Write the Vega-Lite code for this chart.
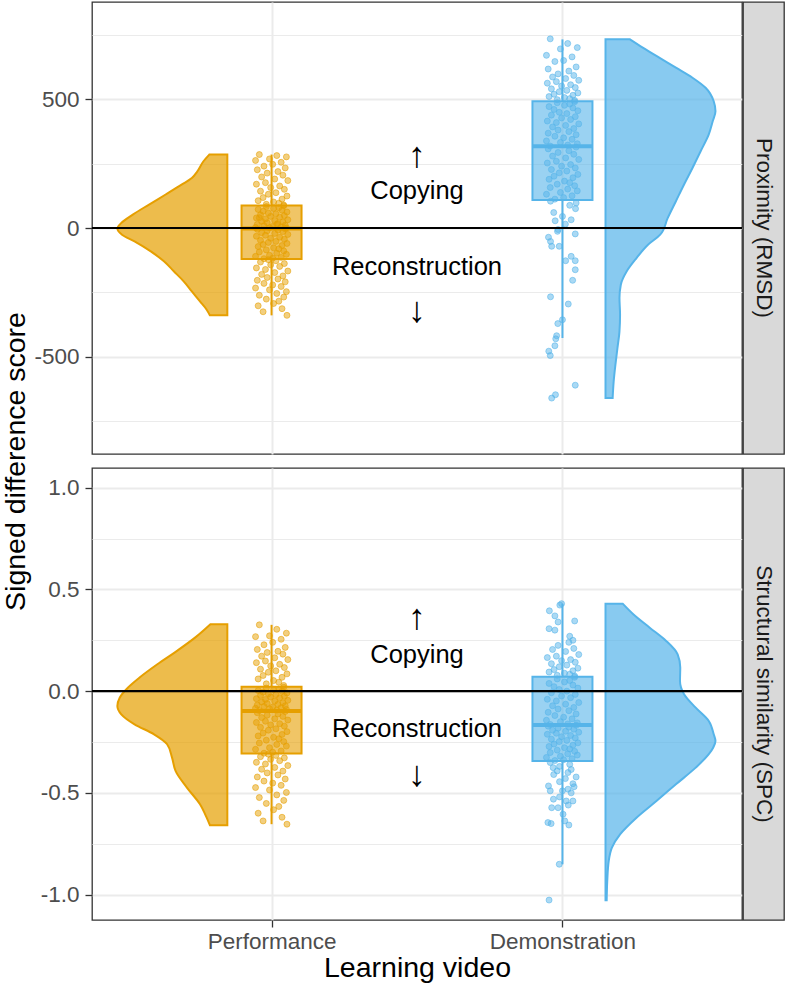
{
"$schema": "https://vega.github.io/schema/vega-lite/v6.json",
"padding": {"left": 0, "top": 1, "right": 2, "bottom": 2},
"background": "white",
"bounds": "flush",
"columns": 2,
"spacing": {"row": 14, "column": 1},
"config": {
  "font": "Liberation Sans",
  "view": {"stroke": "#333333", "strokeWidth": 1.3},
  "axis": {"domain": false, "gridColor": "#EBEBEB", "tickColor": "#333333", "tickWidth": 1.3, "tickSize": 7, "labelFontSize": 22.5, "labelColor": "#4D4D4D", "labelFont": "Liberation Sans", "titleFont": "Liberation Sans", "titleFontSize": 28.5, "titleFontWeight": "normal", "titleColor": "#000000"},
  "text": {"font": "Liberation Sans"}
},
"datasets": {
  "vioTopP": [{"v":285,"xo":0.786},{"v":259,"xo":0.766},{"v":220,"xo":0.745},{"v":194,"xo":0.726},{"v":169,"xo":0.692},{"v":130,"xo":0.636},{"v":91,"xo":0.579},{"v":52,"xo":0.523},{"v":19,"xo":0.483},{"v":-2,"xo":0.470},{"v":-26,"xo":0.486},{"v":-52,"xo":0.529},{"v":-91,"xo":0.585},{"v":-129,"xo":0.630},{"v":-168,"xo":0.664},{"v":-207,"xo":0.698},{"v":-246,"xo":0.726},{"v":-285,"xo":0.754},{"v":-317,"xo":0.777},{"v":-339,"xo":0.788}],
  "vioTopD": [{"v":732,"xo":2.232},{"v":699,"xo":2.2775},{"v":660,"xo":2.334},{"v":622,"xo":2.390},{"v":583,"xo":2.447},{"v":544,"xo":2.492},{"v":492,"xo":2.520},{"v":453,"xo":2.526},{"v":414,"xo":2.5165},{"v":363,"xo":2.503},{"v":298,"xo":2.475},{"v":233,"xo":2.447},{"v":169,"xo":2.418},{"v":104,"xo":2.390},{"v":39,"xo":2.362},{"v":-26,"xo":2.336},{"v":-65,"xo":2.294},{"v":-117,"xo":2.2545},{"v":-168,"xo":2.221},{"v":-220,"xo":2.2006},{"v":-272,"xo":2.196},{"v":-336,"xo":2.198},{"v":-401,"xo":2.196},{"v":-466,"xo":2.189},{"v":-531,"xo":2.182},{"v":-596,"xo":2.176},{"v":-660,"xo":2.1725}],
  "vioBotP": [{"v":0.329,"xo":0.790},{"v":0.263,"xo":0.737},{"v":0.198,"xo":0.675},{"v":0.132,"xo":0.6075},{"v":0.066,"xo":0.5455},{"v":0.017,"xo":0.506},{"v":-0.032,"xo":0.478},{"v":-0.073,"xo":0.470},{"v":-0.114,"xo":0.4835},{"v":-0.163,"xo":0.529},{"v":-0.212,"xo":0.596},{"v":-0.261,"xo":0.641},{"v":-0.327,"xo":0.658},{"v":-0.392,"xo":0.670},{"v":-0.474,"xo":0.709},{"v":-0.556,"xo":0.754},{"v":-0.622,"xo":0.777},{"v":-0.659,"xo":0.788}],
  "vioBotD": [{"v":0.430,"xo":2.207},{"v":0.378,"xo":2.2435},{"v":0.312,"xo":2.300},{"v":0.247,"xo":2.3565},{"v":0.181,"xo":2.396},{"v":0.116,"xo":2.405},{"v":0.050,"xo":2.404},{"v":-0.015,"xo":2.418},{"v":-0.081,"xo":2.458},{"v":-0.1465,"xo":2.503},{"v":-0.212,"xo":2.520},{"v":-0.245,"xo":2.526},{"v":-0.278,"xo":2.518},{"v":-0.310,"xo":2.503},{"v":-0.376,"xo":2.458},{"v":-0.458,"xo":2.390},{"v":-0.540,"xo":2.323},{"v":-0.622,"xo":2.2545},{"v":-0.704,"xo":2.198},{"v":-0.769,"xo":2.170},{"v":-0.835,"xo":2.159},{"v":-0.933,"xo":2.154},{"v":-1.028,"xo":2.152}],
  "boxTop": [{"g":"Performance","c":1,"lo":-339,"q1":-120,"med":-2,"q3":87,"hi":285},{"g":"Demonstration","c":2,"lo":-427,"q1":109,"med":317,"q3":492,"hi":732}],
  "boxBot": [{"g":"Performance","c":1,"lo":-0.654,"q1":-0.307,"med":-0.097,"q3":0.022,"hi":0.326},{"g":"Demonstration","c":2,"lo":-0.851,"q1":-0.343,"med":-0.166,"q3":0.071,"hi":0.43}],
  "wordsTop": [{"t":"Copying","v":143},{"t":"Reconstruction","v":-152}],
  "arrowsTop": [{"t":"↑","v":278},{"t":"↓","v":-324}],
  "wordsBot": [{"t":"Copying","v":0.178},{"t":"Reconstruction","v":-0.186}],
  "arrowsBot": [{"t":"↑","v":0.36},{"t":"↓","v":-0.413}],
  "ptsTopP": [{"x":0.958,"v":285},{"x":1.018,"v":281},{"x":1.051,"v":276},{"x":0.993,"v":268},{"x":0.945,"v":262},{"x":1.033,"v":255},{"x":1.004,"v":247},{"x":0.974,"v":240},{"x":1.047,"v":233},{"x":0.951,"v":226},{"x":1.022,"v":219},{"x":0.985,"v":213},{"x":1.039,"v":205},{"x":0.966,"v":198},{"x":1.011,"v":190},{"x":1.056,"v":184},{"x":0.979,"v":176},{"x":0.948,"v":170},{"x":1.028,"v":163},{"x":0.997,"v":157},{"x":1.044,"v":150},{"x":0.962,"v":143},{"x":1.015,"v":137},{"x":0.989,"v":131},{"x":1.053,"v":124},{"x":0.971,"v":118},{"x":1.036,"v":112},{"x":0.954,"v":106},{"x":1.007,"v":101},{"x":1.025,"v":96},{"x":0.982,"v":92},{"x":1.042,"v":89},
{"x":1.042,"v":86},{"x":0.982,"v":83},{"x":1.025,"v":79},{"x":1.007,"v":76},{"x":0.954,"v":72},{"x":1.036,"v":69},{"x":0.971,"v":65},{"x":1.053,"v":62},{"x":0.989,"v":58},{"x":1.015,"v":55},{"x":0.962,"v":51},{"x":1.044,"v":48},{"x":0.997,"v":45},{"x":1.028,"v":42},{"x":0.948,"v":39},{"x":0.979,"v":35},{"x":1.056,"v":32},{"x":1.011,"v":29},{"x":0.966,"v":26},{"x":1.039,"v":23},{"x":0.985,"v":20},{"x":1.022,"v":17},{"x":0.951,"v":14},{"x":1.047,"v":11},{"x":0.974,"v":9},{"x":1.004,"v":6},{"x":1.033,"v":4},{"x":0.945,"v":2},{"x":0.993,"v":1},{"x":1.051,"v":0},{"x":1.018,"v":15},{"x":0.958,"v":40},
{"x":1.047,"v":-3},{"x":0.951,"v":-5},{"x":1.022,"v":-8},{"x":0.985,"v":-11},{"x":1.039,"v":-14},{"x":0.966,"v":-18},{"x":1.011,"v":-21},{"x":1.056,"v":-25},{"x":0.979,"v":-28},{"x":0.948,"v":-32},{"x":1.028,"v":-36},{"x":0.997,"v":-40},{"x":1.044,"v":-44},{"x":0.962,"v":-48},{"x":1.015,"v":-52},{"x":0.989,"v":-56},{"x":1.053,"v":-60},{"x":0.971,"v":-64},{"x":1.036,"v":-68},{"x":0.954,"v":-72},{"x":1.007,"v":-77},{"x":1.025,"v":-81},{"x":0.982,"v":-85},{"x":1.042,"v":-89},{"x":0.958,"v":-93},{"x":1.018,"v":-98},{"x":1.051,"v":-102},{"x":0.993,"v":-106},{"x":0.945,"v":-110},{"x":1.033,"v":-114},{"x":1.004,"v":-117},{"x":0.974,"v":-119},
{"x":0.989,"v":-123},{"x":1.015,"v":-127},{"x":0.962,"v":-132},{"x":1.044,"v":-138},{"x":0.997,"v":-143},{"x":1.028,"v":-149},{"x":0.948,"v":-155},{"x":0.979,"v":-161},{"x":1.056,"v":-167},{"x":1.011,"v":-173},{"x":0.966,"v":-180},{"x":1.039,"v":-186},{"x":0.985,"v":-192},{"x":1.022,"v":-198},{"x":0.951,"v":-203},{"x":1.047,"v":-209},{"x":0.974,"v":-215},{"x":1.004,"v":-221},{"x":1.033,"v":-227},{"x":0.945,"v":-233},{"x":0.993,"v":-240},{"x":1.051,"v":-247},{"x":1.018,"v":-254},{"x":0.958,"v":-261},{"x":1.042,"v":-268},{"x":0.982,"v":-276},{"x":1.025,"v":-284},{"x":1.007,"v":-293},{"x":0.954,"v":-302},{"x":1.036,"v":-313},{"x":0.971,"v":-325},{"x":1.053,"v":-339}],
  "ptsTopD": [{"x":1.958,"v":734},{"x":2.018,"v":716},{"x":2.051,"v":700},{"x":1.993,"v":695},{"x":1.945,"v":670},{"x":2.033,"v":664},{"x":2.004,"v":650},{"x":1.974,"v":646},{"x":2.047,"v":625},{"x":1.951,"v":617},{"x":2.022,"v":609},{"x":1.985,"v":598},{"x":2.039,"v":592},{"x":1.966,"v":586},{"x":2.011,"v":580},{"x":2.056,"v":573},{"x":1.979,"v":568},{"x":1.948,"v":562},{"x":2.028,"v":556},{"x":1.997,"v":551},{"x":2.044,"v":545},{"x":1.962,"v":540},{"x":2.015,"v":534},{"x":1.989,"v":529},{"x":2.053,"v":524},{"x":1.971,"v":519},{"x":2.036,"v":515},{"x":1.954,"v":510},{"x":2.007,"v":506},{"x":2.025,"v":502},{"x":1.982,"v":498},{"x":2.042,"v":495},
{"x":2.042,"v":490},{"x":1.982,"v":486},{"x":2.025,"v":481},{"x":2.007,"v":476},{"x":1.954,"v":471},{"x":2.036,"v":466},{"x":1.971,"v":460},{"x":2.053,"v":455},{"x":1.989,"v":449},{"x":2.015,"v":444},{"x":1.962,"v":438},{"x":2.044,"v":432},{"x":1.997,"v":427},{"x":2.028,"v":421},{"x":1.948,"v":415},{"x":1.979,"v":409},{"x":2.056,"v":404},{"x":2.011,"v":398},{"x":1.966,"v":392},{"x":2.039,"v":386},{"x":1.985,"v":380},{"x":2.022,"v":374},{"x":1.951,"v":368},{"x":2.047,"v":362},{"x":1.974,"v":356},{"x":2.004,"v":350},{"x":2.033,"v":344},{"x":1.945,"v":338},{"x":1.993,"v":332},{"x":2.051,"v":327},{"x":2.018,"v":322},{"x":1.958,"v":318},
{"x":2.047,"v":314},{"x":1.951,"v":307},{"x":2.022,"v":300},{"x":1.985,"v":293},{"x":2.039,"v":286},{"x":1.966,"v":279},{"x":2.011,"v":272},{"x":2.056,"v":266},{"x":1.979,"v":259},{"x":1.948,"v":252},{"x":2.028,"v":246},{"x":1.997,"v":240},{"x":2.044,"v":233},{"x":1.962,"v":227},{"x":2.015,"v":221},{"x":1.989,"v":214},{"x":2.053,"v":208},{"x":1.971,"v":201},{"x":2.036,"v":195},{"x":1.954,"v":189},{"x":2.007,"v":182},{"x":2.025,"v":176},{"x":1.982,"v":170},{"x":2.042,"v":164},{"x":1.958,"v":157},{"x":2.018,"v":151},{"x":2.051,"v":144},{"x":1.993,"v":138},{"x":1.945,"v":131},{"x":2.033,"v":125},{"x":2.004,"v":118},{"x":1.974,"v":112},
{"x":1.959,"v":104},{"x":2.047,"v":97},{"x":2.025,"v":88},{"x":2.045,"v":75},{"x":1.97,"v":60},{"x":2.0,"v":45},{"x":2.03,"v":32},{"x":1.975,"v":28},{"x":2.01,"v":15},{"x":1.985,"v":-6},{"x":1.983,"v":-13},{"x":2.044,"v":-23},{"x":1.952,"v":-36},{"x":1.959,"v":-52},{"x":1.963,"v":-71},{"x":1.989,"v":-71},{"x":2.03,"v":-110},{"x":2.011,"v":-127},{"x":2.044,"v":-127},{"x":2.044,"v":-162},{"x":2.035,"v":-203},{"x":1.959,"v":-267},{"x":2.02,"v":-295},{"x":2.0,"v":-356},{"x":1.984,"v":-371},{"x":1.98,"v":-418},{"x":1.977,"v":-430},{"x":1.974,"v":-457},{"x":1.953,"v":-478},{"x":1.958,"v":-495},{"x":2.044,"v":-610},{"x":1.976,"v":-647},{"x":1.963,"v":-660}],
  "ptsBotP": [{"x":0.958,"v":0.326},{"x":1.018,"v":0.304},{"x":1.051,"v":0.285},{"x":0.993,"v":0.272},{"x":0.945,"v":0.268},{"x":1.033,"v":0.255},{"x":1.004,"v":0.24},{"x":0.974,"v":0.228},{"x":1.047,"v":0.215},{"x":0.951,"v":0.205},{"x":1.022,"v":0.196},{"x":0.985,"v":0.19},{"x":1.039,"v":0.182},{"x":0.966,"v":0.172},{"x":1.011,"v":0.164},{"x":1.056,"v":0.155},{"x":0.979,"v":0.148},{"x":0.948,"v":0.14},{"x":1.028,"v":0.132},{"x":0.997,"v":0.124},{"x":1.044,"v":0.116},{"x":0.962,"v":0.108},{"x":1.015,"v":0.1},{"x":0.989,"v":0.093},{"x":1.053,"v":0.085},{"x":0.971,"v":0.077},{"x":1.036,"v":0.068},{"x":0.954,"v":0.06},{"x":1.007,"v":0.052},{"x":1.025,"v":0.044},{"x":0.982,"v":0.036},{"x":1.042,"v":0.028},
{"x":1.042,"v":0.019},{"x":0.982,"v":0.015},{"x":1.025,"v":0.011},{"x":1.007,"v":0.007},{"x":0.954,"v":0.003},{"x":1.036,"v":-0.001},{"x":0.971,"v":-0.005},{"x":1.053,"v":-0.009},{"x":0.989,"v":-0.013},{"x":1.015,"v":-0.017},{"x":0.962,"v":-0.021},{"x":1.044,"v":-0.025},{"x":0.997,"v":-0.029},{"x":1.028,"v":-0.033},{"x":0.948,"v":-0.037},{"x":0.979,"v":-0.041},{"x":1.056,"v":-0.045},{"x":1.011,"v":-0.049},{"x":0.966,"v":-0.053},{"x":1.039,"v":-0.057},{"x":0.985,"v":-0.061},{"x":1.022,"v":-0.065},{"x":0.951,"v":-0.068},{"x":1.047,"v":-0.072},{"x":0.974,"v":-0.075},{"x":1.004,"v":-0.078},{"x":1.033,"v":-0.081},{"x":0.945,"v":-0.084},{"x":0.993,"v":-0.087},{"x":1.051,"v":-0.09},{"x":1.018,"v":-0.093},{"x":0.958,"v":-0.095},
{"x":1.047,"v":-0.1},{"x":0.951,"v":-0.106},{"x":1.022,"v":-0.112},{"x":0.985,"v":-0.118},{"x":1.039,"v":-0.124},{"x":0.966,"v":-0.13},{"x":1.011,"v":-0.136},{"x":1.056,"v":-0.142},{"x":0.979,"v":-0.148},{"x":0.948,"v":-0.154},{"x":1.028,"v":-0.16},{"x":0.997,"v":-0.166},{"x":1.044,"v":-0.172},{"x":0.962,"v":-0.178},{"x":1.015,"v":-0.185},{"x":0.989,"v":-0.192},{"x":1.053,"v":-0.199},{"x":0.971,"v":-0.206},{"x":1.036,"v":-0.213},{"x":0.954,"v":-0.22},{"x":1.007,"v":-0.227},{"x":1.025,"v":-0.234},{"x":0.982,"v":-0.241},{"x":1.042,"v":-0.248},{"x":0.958,"v":-0.255},{"x":1.018,"v":-0.262},{"x":1.051,"v":-0.27},{"x":0.993,"v":-0.278},{"x":0.945,"v":-0.286},{"x":1.033,"v":-0.294},{"x":1.004,"v":-0.3},{"x":0.974,"v":-0.305},
{"x":0.989,"v":-0.31},{"x":1.015,"v":-0.316},{"x":0.962,"v":-0.322},{"x":1.044,"v":-0.328},{"x":0.997,"v":-0.335},{"x":1.028,"v":-0.342},{"x":0.948,"v":-0.35},{"x":0.979,"v":-0.358},{"x":1.056,"v":-0.366},{"x":1.011,"v":-0.375},{"x":0.966,"v":-0.384},{"x":1.039,"v":-0.393},{"x":0.985,"v":-0.402},{"x":1.022,"v":-0.412},{"x":0.951,"v":-0.422},{"x":1.047,"v":-0.432},{"x":0.974,"v":-0.442},{"x":1.004,"v":-0.452},{"x":1.033,"v":-0.463},{"x":0.945,"v":-0.474},{"x":0.993,"v":-0.486},{"x":1.051,"v":-0.498},{"x":1.018,"v":-0.51},{"x":0.958,"v":-0.523},{"x":1.042,"v":-0.537},{"x":0.982,"v":-0.552},{"x":1.025,"v":-0.567},{"x":1.007,"v":-0.583},{"x":0.954,"v":-0.6},{"x":1.036,"v":-0.62},{"x":0.971,"v":-0.638},{"x":1.053,"v":-0.654}],
  "ptsBotD": [{"x":1.997,"v":0.43},{"x":1.991,"v":0.423},{"x":1.955,"v":0.395},{"x":1.974,"v":0.37},{"x":2.042,"v":0.345},{"x":1.985,"v":0.34},{"x":1.954,"v":0.307},{"x":1.974,"v":0.3},{"x":2.025,"v":0.27},{"x":2.036,"v":0.25},{"x":2.022,"v":0.24},{"x":1.985,"v":0.225},{"x":2.039,"v":0.21},{"x":1.966,"v":0.205},{"x":2.011,"v":0.195},{"x":2.056,"v":0.18},{"x":1.979,"v":0.172},{"x":1.948,"v":0.165},{"x":2.028,"v":0.155},{"x":1.997,"v":0.15},{"x":2.044,"v":0.142},{"x":1.962,"v":0.135},{"x":2.015,"v":0.128},{"x":1.989,"v":0.12},{"x":2.053,"v":0.113},{"x":1.971,"v":0.106},{"x":2.036,"v":0.1},{"x":1.954,"v":0.094},{"x":2.007,"v":0.088},{"x":2.025,"v":0.083},{"x":1.982,"v":0.078},{"x":2.042,"v":0.074},
{"x":2.042,"v":0.068},{"x":1.982,"v":0.06},{"x":2.025,"v":0.052},{"x":2.007,"v":0.045},{"x":1.954,"v":0.038},{"x":2.036,"v":0.03},{"x":1.971,"v":0.022},{"x":2.053,"v":0.015},{"x":1.989,"v":0.008},{"x":2.015,"v":0.0},{"x":1.962,"v":-0.008},{"x":2.044,"v":-0.016},{"x":1.997,"v":-0.024},{"x":2.028,"v":-0.032},{"x":1.948,"v":-0.04},{"x":1.979,"v":-0.048},{"x":2.056,"v":-0.056},{"x":2.011,"v":-0.064},{"x":1.966,"v":-0.072},{"x":2.039,"v":-0.08},{"x":1.985,"v":-0.088},{"x":2.022,"v":-0.096},{"x":1.951,"v":-0.104},{"x":2.047,"v":-0.112},{"x":1.974,"v":-0.12},{"x":2.004,"v":-0.128},{"x":2.033,"v":-0.136},{"x":1.945,"v":-0.143},{"x":1.993,"v":-0.15},{"x":2.051,"v":-0.156},{"x":2.018,"v":-0.161},{"x":1.958,"v":-0.164},
{"x":2.047,"v":-0.168},{"x":1.951,"v":-0.172},{"x":2.022,"v":-0.177},{"x":1.985,"v":-0.182},{"x":2.039,"v":-0.187},{"x":1.966,"v":-0.192},{"x":2.011,"v":-0.197},{"x":2.056,"v":-0.202},{"x":1.979,"v":-0.207},{"x":1.948,"v":-0.212},{"x":2.028,"v":-0.218},{"x":1.997,"v":-0.224},{"x":2.044,"v":-0.23},{"x":1.962,"v":-0.236},{"x":2.015,"v":-0.242},{"x":1.989,"v":-0.248},{"x":2.053,"v":-0.254},{"x":1.971,"v":-0.26},{"x":2.036,"v":-0.266},{"x":1.954,"v":-0.272},{"x":2.007,"v":-0.278},{"x":2.025,"v":-0.284},{"x":1.982,"v":-0.29},{"x":2.042,"v":-0.296},{"x":1.958,"v":-0.302},{"x":2.018,"v":-0.308},{"x":2.051,"v":-0.314},{"x":1.993,"v":-0.32},{"x":1.945,"v":-0.326},{"x":2.033,"v":-0.332},{"x":2.004,"v":-0.337},{"x":1.974,"v":-0.341},
{"x":1.958,"v":-0.351},{"x":2.025,"v":-0.36},{"x":1.99,"v":-0.37},{"x":1.968,"v":-0.376},{"x":2.03,"v":-0.385},{"x":1.982,"v":-0.392},{"x":2.019,"v":-0.4},{"x":1.97,"v":-0.41},{"x":2.047,"v":-0.422},{"x":2.01,"v":-0.43},{"x":1.99,"v":-0.445},{"x":2.036,"v":-0.455},{"x":1.952,"v":-0.466},{"x":2.04,"v":-0.47},{"x":2.019,"v":-0.482},{"x":1.958,"v":-0.49},{"x":2.0,"v":-0.49},{"x":2.03,"v":-0.5},{"x":1.99,"v":-0.52},{"x":1.969,"v":-0.531},{"x":2.013,"v":-0.54},{"x":2.036,"v":-0.54},{"x":2.02,"v":-0.56},{"x":1.963,"v":-0.573},{"x":1.985,"v":-0.573},{"x":2.002,"v":-0.605},{"x":2.008,"v":-0.638},{"x":1.95,"v":-0.646},{"x":1.961,"v":-0.651},{"x":2.022,"v":-0.658},{"x":1.989,"v":-0.851},{"x":1.954,"v":-1.027}]
},
"concat": [
{
 "width": 650, "height": 452,
 "layer": [
  {"data": {"name": "vioTopP"}, "mark": {"type": "area", "orient": "horizontal", "interpolate": "monotone", "fill": "#E69F00", "fillOpacity": 0.7, "stroke": "#E69F00", "strokeWidth": 2},
   "encoding": {
     "y": {"field": "v", "type": "quantitative", "scale": {"domain": [-877, 877], "nice": false, "zero": false},
       "axis": {"values": [-750,-500,-250,0,250,500,750], "labelExpr": "datum.value % 500 === 0 ? toString(datum.value) : ''",
         "gridWidth": {"condition": {"test": "datum.value % 500 === 0", "value": 2}, "value": 1.1},
         "tickOpacity": {"condition": {"test": "datum.value % 500 === 0", "value": 1}, "value": 0},
         "labelPadding": 6, "title": "Signed difference score", "titleX": -77, "titleY": 459, "titleBaseline": "middle", "titleAlign": "center", "titleAngle": -90}},
     "x": {"field": "xo", "type": "quantitative", "scale": {"domain": [0.4, 2.6], "nice": false, "zero": false},
       "axis": {"values": [1, 2], "labels": false, "ticks": false, "title": null, "grid": true, "gridWidth": 2}},
     "x2": {"datum": 0.848}}},
  {"data": {"name": "vioTopD"}, "mark": {"type": "area", "orient": "horizontal", "interpolate": "monotone", "fill": "#56B4E9", "fillOpacity": 0.7, "stroke": "#56B4E9", "strokeWidth": 2},
   "encoding": {
     "y": {"field": "v", "type": "quantitative", "scale": {"domain": [-877, 877], "nice": false, "zero": false}},
     "x": {"field": "xo", "type": "quantitative", "scale": {"domain": [0.4, 2.6], "nice": false, "zero": false}},
     "x2": {"datum": 2.148}}},
  {"data": {"name": "ptsTopP"}, "mark": {"type": "point", "filled": true, "size": 36, "fill": "#E69F00", "fillOpacity": 0.5, "stroke": "#E69F00", "strokeOpacity": 0.55, "strokeWidth": 1},
   "encoding": {
     "x": {"field": "x", "type": "quantitative", "scale": {"domain": [0.4, 2.6], "nice": false, "zero": false}},
     "y": {"field": "v", "type": "quantitative", "scale": {"domain": [-877, 877], "nice": false, "zero": false}}}},
  {"data": {"name": "ptsTopD"}, "mark": {"type": "point", "filled": true, "size": 36, "fill": "#56B4E9", "fillOpacity": 0.5, "stroke": "#56B4E9", "strokeOpacity": 0.55, "strokeWidth": 1},
   "encoding": {
     "x": {"field": "x", "type": "quantitative", "scale": {"domain": [0.4, 2.6], "nice": false, "zero": false}},
     "y": {"field": "v", "type": "quantitative", "scale": {"domain": [-877, 877], "nice": false, "zero": false}}}},
  {"data": {"name": "boxTop"}, "mark": {"type": "rule", "strokeWidth": 2},
   "encoding": {
     "x": {"field": "c", "type": "quantitative", "scale": {"domain": [0.4, 2.6], "nice": false, "zero": false}},
     "y": {"field": "lo", "type": "quantitative", "scale": {"domain": [-877, 877], "nice": false, "zero": false}},
     "y2": {"field": "q1"},
     "color": {"field": "g", "type": "nominal", "scale": {"domain": ["Performance", "Demonstration"], "range": ["#E69F00", "#56B4E9"]}, "legend": null}}},
  {"data": {"name": "boxTop"}, "mark": {"type": "rule", "strokeWidth": 2},
   "encoding": {
     "x": {"field": "c", "type": "quantitative", "scale": {"domain": [0.4, 2.6], "nice": false, "zero": false}},
     "y": {"field": "q3", "type": "quantitative", "scale": {"domain": [-877, 877], "nice": false, "zero": false}},
     "y2": {"field": "hi"},
     "color": {"field": "g", "type": "nominal", "scale": {"domain": ["Performance", "Demonstration"], "range": ["#E69F00", "#56B4E9"]}, "legend": null}}},
  {"data": {"name": "boxTop"}, "mark": {"type": "bar", "orient": "vertical", "width": 60, "fillOpacity": 0.6, "strokeWidth": 2},
   "encoding": {
     "x": {"field": "c", "type": "quantitative", "scale": {"domain": [0.4, 2.6], "nice": false, "zero": false}},
     "y": {"field": "q1", "type": "quantitative", "scale": {"domain": [-877, 877], "nice": false, "zero": false}},
     "y2": {"field": "q3"},
     "fill": {"field": "g", "type": "nominal", "scale": {"domain": ["Performance", "Demonstration"], "range": ["#E69F00", "#56B4E9"]}, "legend": null},
     "stroke": {"field": "g", "type": "nominal", "scale": {"domain": ["Performance", "Demonstration"], "range": ["#E69F00", "#56B4E9"]}, "legend": null}}},
  {"data": {"name": "boxTop"}, "mark": {"type": "tick", "orient": "horizontal", "size": 60, "thickness": 4, "opacity": 1},
   "encoding": {
     "x": {"field": "c", "type": "quantitative", "scale": {"domain": [0.4, 2.6], "nice": false, "zero": false}},
     "y": {"field": "med", "type": "quantitative", "scale": {"domain": [-877, 877], "nice": false, "zero": false}},
     "color": {"field": "g", "type": "nominal", "scale": {"domain": ["Performance", "Demonstration"], "range": ["#E69F00", "#56B4E9"]}, "legend": null}}},
  {"data": {"values": [{}]}, "mark": {"type": "rule", "color": "#000000", "strokeWidth": 2.2},
   "encoding": {"y": {"datum": 0, "type": "quantitative", "scale": {"domain": [-877, 877], "nice": false, "zero": false}}}},
  {"data": {"name": "wordsTop"}, "mark": {"type": "text", "fontSize": 25.5, "color": "#000000", "align": "center", "baseline": "middle"},
   "encoding": {
     "x": {"datum": 1.5, "type": "quantitative", "scale": {"domain": [0.4, 2.6], "nice": false, "zero": false}},
     "y": {"field": "v", "type": "quantitative", "scale": {"domain": [-877, 877], "nice": false, "zero": false}},
     "text": {"field": "t"}}},
  {"data": {"name": "arrowsTop"}, "mark": {"type": "text", "fontSize": 36, "font": "Liberation Sans", "color": "#000000", "align": "center", "baseline": "middle"},
   "encoding": {
     "x": {"datum": 1.5, "type": "quantitative", "scale": {"domain": [0.4, 2.6], "nice": false, "zero": false}},
     "y": {"field": "v", "type": "quantitative", "scale": {"domain": [-877, 877], "nice": false, "zero": false}},
     "text": {"field": "t"}}}
 ]
},
{
 "width": 41, "height": 452,
 "view": {"fill": "#D9D9D9", "stroke": "#333333", "strokeWidth": 1.3},
 "data": {"values": [{"label": "Proximity (RMSD)"}]},
 "mark": {"type": "text", "angle": 90, "fontSize": 22.5, "color": "#1A1A1A", "align": "center", "baseline": "middle"},
 "encoding": {"text": {"field": "label"}}
},
{
 "width": 650, "height": 452,
 "layer": [
  {"data": {"name": "vioBotP"}, "mark": {"type": "area", "orient": "horizontal", "interpolate": "monotone", "fill": "#E69F00", "fillOpacity": 0.7, "stroke": "#E69F00", "strokeWidth": 2},
   "encoding": {
     "y": {"field": "v", "type": "quantitative", "scale": {"domain": [-1.125, 1.097], "nice": false, "zero": false},
       "axis": {"values": [-1,-0.75,-0.5,-0.25,0,0.25,0.5,0.75,1], "labelExpr": "datum.value % 0.5 === 0 ? replace(format(datum.value, '.1f'), '−', '-') : ''",
         "gridWidth": {"condition": {"test": "datum.value % 0.5 === 0", "value": 2}, "value": 1.1},
         "tickOpacity": {"condition": {"test": "datum.value % 0.5 === 0", "value": 1}, "value": 0},
         "labelPadding": 6, "title": null}},
     "x": {"field": "xo", "type": "quantitative", "scale": {"domain": [0.4, 2.6], "nice": false, "zero": false},
       "axis": {"values": [1, 2], "labelExpr": "datum.value === 1 ? 'Performance' : 'Demonstration'", "grid": true, "gridWidth": 2, "labelPadding": 3, "title": "Learning video", "titlePadding": 1}},
     "x2": {"datum": 0.848}}},
  {"data": {"name": "vioBotD"}, "mark": {"type": "area", "orient": "horizontal", "interpolate": "monotone", "fill": "#56B4E9", "fillOpacity": 0.7, "stroke": "#56B4E9", "strokeWidth": 2},
   "encoding": {
     "y": {"field": "v", "type": "quantitative", "scale": {"domain": [-1.125, 1.097], "nice": false, "zero": false}},
     "x": {"field": "xo", "type": "quantitative", "scale": {"domain": [0.4, 2.6], "nice": false, "zero": false}},
     "x2": {"datum": 2.148}}},
  {"data": {"name": "ptsBotP"}, "mark": {"type": "point", "filled": true, "size": 36, "fill": "#E69F00", "fillOpacity": 0.5, "stroke": "#E69F00", "strokeOpacity": 0.55, "strokeWidth": 1},
   "encoding": {
     "x": {"field": "x", "type": "quantitative", "scale": {"domain": [0.4, 2.6], "nice": false, "zero": false}},
     "y": {"field": "v", "type": "quantitative", "scale": {"domain": [-1.125, 1.097], "nice": false, "zero": false}}}},
  {"data": {"name": "ptsBotD"}, "mark": {"type": "point", "filled": true, "size": 36, "fill": "#56B4E9", "fillOpacity": 0.5, "stroke": "#56B4E9", "strokeOpacity": 0.55, "strokeWidth": 1},
   "encoding": {
     "x": {"field": "x", "type": "quantitative", "scale": {"domain": [0.4, 2.6], "nice": false, "zero": false}},
     "y": {"field": "v", "type": "quantitative", "scale": {"domain": [-1.125, 1.097], "nice": false, "zero": false}}}},
  {"data": {"name": "boxBot"}, "mark": {"type": "rule", "strokeWidth": 2},
   "encoding": {
     "x": {"field": "c", "type": "quantitative", "scale": {"domain": [0.4, 2.6], "nice": false, "zero": false}},
     "y": {"field": "lo", "type": "quantitative", "scale": {"domain": [-1.125, 1.097], "nice": false, "zero": false}},
     "y2": {"field": "q1"},
     "color": {"field": "g", "type": "nominal", "scale": {"domain": ["Performance", "Demonstration"], "range": ["#E69F00", "#56B4E9"]}, "legend": null}}},
  {"data": {"name": "boxBot"}, "mark": {"type": "rule", "strokeWidth": 2},
   "encoding": {
     "x": {"field": "c", "type": "quantitative", "scale": {"domain": [0.4, 2.6], "nice": false, "zero": false}},
     "y": {"field": "q3", "type": "quantitative", "scale": {"domain": [-1.125, 1.097], "nice": false, "zero": false}},
     "y2": {"field": "hi"},
     "color": {"field": "g", "type": "nominal", "scale": {"domain": ["Performance", "Demonstration"], "range": ["#E69F00", "#56B4E9"]}, "legend": null}}},
  {"data": {"name": "boxBot"}, "mark": {"type": "bar", "orient": "vertical", "width": 60, "fillOpacity": 0.6, "strokeWidth": 2},
   "encoding": {
     "x": {"field": "c", "type": "quantitative", "scale": {"domain": [0.4, 2.6], "nice": false, "zero": false}},
     "y": {"field": "q1", "type": "quantitative", "scale": {"domain": [-1.125, 1.097], "nice": false, "zero": false}},
     "y2": {"field": "q3"},
     "fill": {"field": "g", "type": "nominal", "scale": {"domain": ["Performance", "Demonstration"], "range": ["#E69F00", "#56B4E9"]}, "legend": null},
     "stroke": {"field": "g", "type": "nominal", "scale": {"domain": ["Performance", "Demonstration"], "range": ["#E69F00", "#56B4E9"]}, "legend": null}}},
  {"data": {"name": "boxBot"}, "mark": {"type": "tick", "orient": "horizontal", "size": 60, "thickness": 4, "opacity": 1},
   "encoding": {
     "x": {"field": "c", "type": "quantitative", "scale": {"domain": [0.4, 2.6], "nice": false, "zero": false}},
     "y": {"field": "med", "type": "quantitative", "scale": {"domain": [-1.125, 1.097], "nice": false, "zero": false}},
     "color": {"field": "g", "type": "nominal", "scale": {"domain": ["Performance", "Demonstration"], "range": ["#E69F00", "#56B4E9"]}, "legend": null}}},
  {"data": {"values": [{}]}, "mark": {"type": "rule", "color": "#000000", "strokeWidth": 2.2},
   "encoding": {"y": {"datum": 0, "type": "quantitative", "scale": {"domain": [-1.125, 1.097], "nice": false, "zero": false}}}},
  {"data": {"name": "wordsBot"}, "mark": {"type": "text", "fontSize": 25.5, "color": "#000000", "align": "center", "baseline": "middle"},
   "encoding": {
     "x": {"datum": 1.5, "type": "quantitative", "scale": {"domain": [0.4, 2.6], "nice": false, "zero": false}},
     "y": {"field": "v", "type": "quantitative", "scale": {"domain": [-1.125, 1.097], "nice": false, "zero": false}},
     "text": {"field": "t"}}},
  {"data": {"name": "arrowsBot"}, "mark": {"type": "text", "fontSize": 36, "font": "Liberation Sans", "color": "#000000", "align": "center", "baseline": "middle"},
   "encoding": {
     "x": {"datum": 1.5, "type": "quantitative", "scale": {"domain": [0.4, 2.6], "nice": false, "zero": false}},
     "y": {"field": "v", "type": "quantitative", "scale": {"domain": [-1.125, 1.097], "nice": false, "zero": false}},
     "text": {"field": "t"}}}
 ]
},
{
 "width": 41, "height": 452,
 "view": {"fill": "#D9D9D9", "stroke": "#333333", "strokeWidth": 1.3},
 "data": {"values": [{"label": "Structural similarity (SPC)"}]},
 "mark": {"type": "text", "angle": 90, "fontSize": 22.5, "color": "#1A1A1A", "align": "center", "baseline": "middle"},
 "encoding": {"text": {"field": "label"}}
}
]
}
